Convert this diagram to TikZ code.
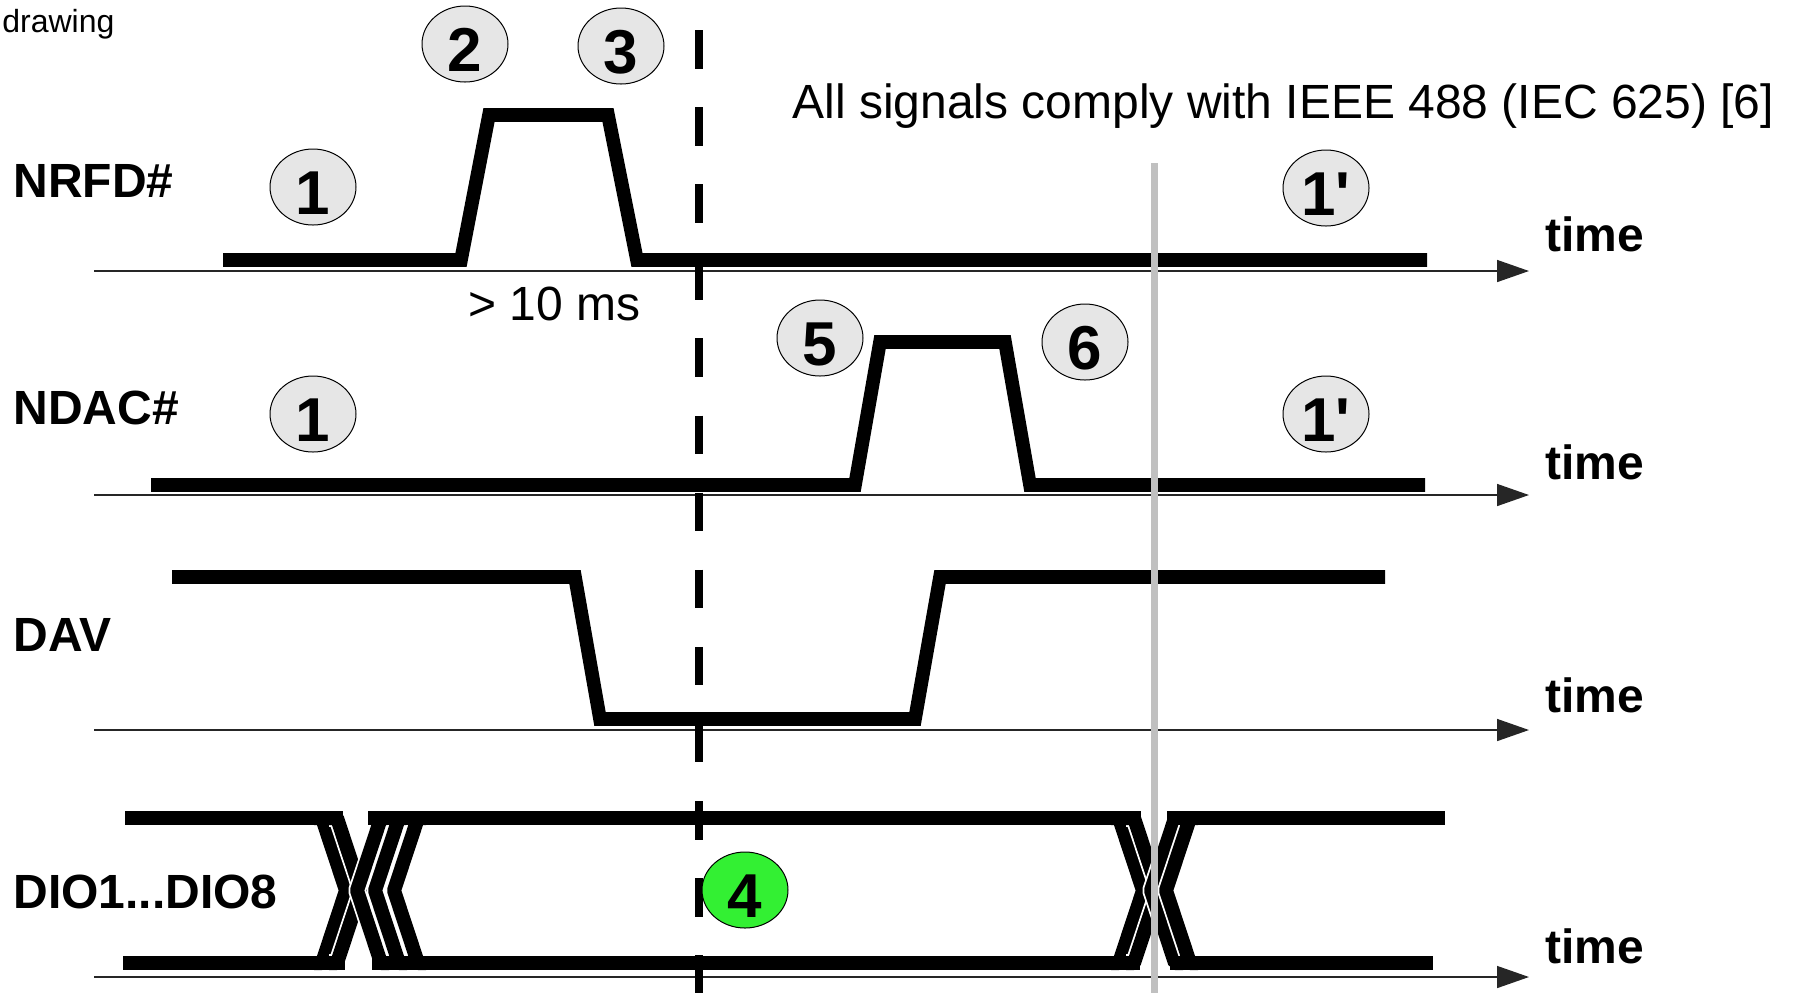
\documentclass[tikz,border=0pt]{standalone}
\usepackage{fontspec}
\setmainfont{Liberation Sans}
\usetikzlibrary{shapes.geometric,arrows.meta}
\definecolor{circgray}{RGB}{230,230,230}
\definecolor{lgreen}{RGB}{51,240,51}
\definecolor{vgray}{RGB}{192,192,192}
\begin{document}
\begin{tikzpicture}[x=0.5pt,y=-0.5pt,
 sig/.style={line width=6.8pt, line join=miter},
 bar/.style={line width=7pt},
 arm/.style={line width=7pt, line join=bevel, preaction={draw=white, line width=8.8pt, line join=bevel}},
 axis/.style={line width=0.75pt, draw=black!85, -{Triangle[length=16pt,width=11pt]}},
 lab/.style={font=\fontsize{24}{28}\selectfont\bfseries, anchor=base west, inner sep=0pt},
 note/.style={font=\fontsize{24}{28}\selectfont, anchor=base west, inner sep=0pt},
 num/.style={ellipse, draw, line width=0.5pt, fill=circgray, minimum width=43pt, minimum height=38pt, inner sep=0pt},
 digit/.style={font=\fontsize{31}{36}\selectfont\bfseries, inner sep=0pt}
]
\useasboundingbox (0,0) rectangle (1793,993);

% axes
\foreach \n/\y in {a/271,b/495,c/730,d/977}{
  \coordinate (\n0) at (94,\y);
  \coordinate (\n1) at (1529,\y);
  \draw[axis] (\n0) -- (\n1);
}

% NRFD#
\draw[sig] (223,260) -- (461,260) -- (489,115) -- (608,115) -- (637,260) -- (1427,260);
% NDAC#
\draw[sig] (151,485) -- (855,485) -- (880,342) -- (1005,342) -- (1030,485) -- (1425,485);
% DAV
\draw[sig] (172,577) -- (575,577) -- (600,719) -- (915,719) -- (940,577) -- (1385,577);

% DIO crossings
\foreach \p in {346,361,1143,1158}{
  \draw[arm] (\p-32,818) -- (\p-24,818) -- (\p,890.5) -- (\p-24,963) -- (\p-32,963);
}
\foreach \p in {357,375,394,1151,1166}{
  \draw[arm] (\p+32,818) -- (\p+24,818) -- (\p,890.5) -- (\p+24,963) -- (\p+32,963);
}
% DIO bars
\draw[bar] (125,818) -- (343,818);
\draw[bar] (123,963) -- (345,963);
\draw[bar] (368,818) -- (1141,818);
\draw[bar] (372,963) -- (1140,963);
\draw[bar] (1167,818) -- (1445,818);
\draw[bar] (1170,963) -- (1433,963);

% grey marker line
\coordinate (g0) at (1154,163);
\coordinate (g1) at (1154,993);
\draw[vgray, line width=3.5pt] (g0) -- (g1);

% dashed line
\coordinate (d0) at (699,30);
\coordinate (d1) at (699,993);
\draw[line width=3.75pt, dash pattern=on 19.25pt off 19.3pt] (d0) -- (d1);

% labels
\node[lab] (lnrfd) at (13,197) {NRFD\#};
\node[lab] (lndac) at (13,424) {NDAC\#};
\node[lab] (ldav) at (13,651) {DAV};
\node[lab] (ldio) at (13,908) {DIO1...DIO8};
\node[lab] (t1) at (1545,251) {time};
\node[lab] (t2) at (1545,479) {time};
\node[lab] (t3) at (1545,712) {time};
\node[lab] (t4) at (1545,963) {time};
\node[note] (ieee) at (792,118) {All signals comply with IEEE 488 (IEC 625) [6]};
\node[note] (tms) at (468,320) {> 10 ms};
\node[anchor=base west, inner sep=0pt, font=\fontsize{16}{18}\selectfont] (dr) at (2,32) {drawing};

% numbered circles
\foreach \n/\x/\y/\t in {c2/465/44/2, c3/621/46/3, c1a/313/187/1, c1b/1326/188/{1\textquotesingle}, c1c/313/414/1, c1d/1326/414/{1\textquotesingle}, c5/820/338/5, c6/1085/342/6}{
  \node[num] (\n) at (\x,\y) {};
  \node[digit] (\n t) at ([yshift=-3pt]\n.center) {\t};
}
\node[num, fill=lgreen] (c4) at (745,890) {};
\node[digit] (c4t) at ([yshift=-3pt]c4.center) {4};
\end{tikzpicture}
\end{document}
